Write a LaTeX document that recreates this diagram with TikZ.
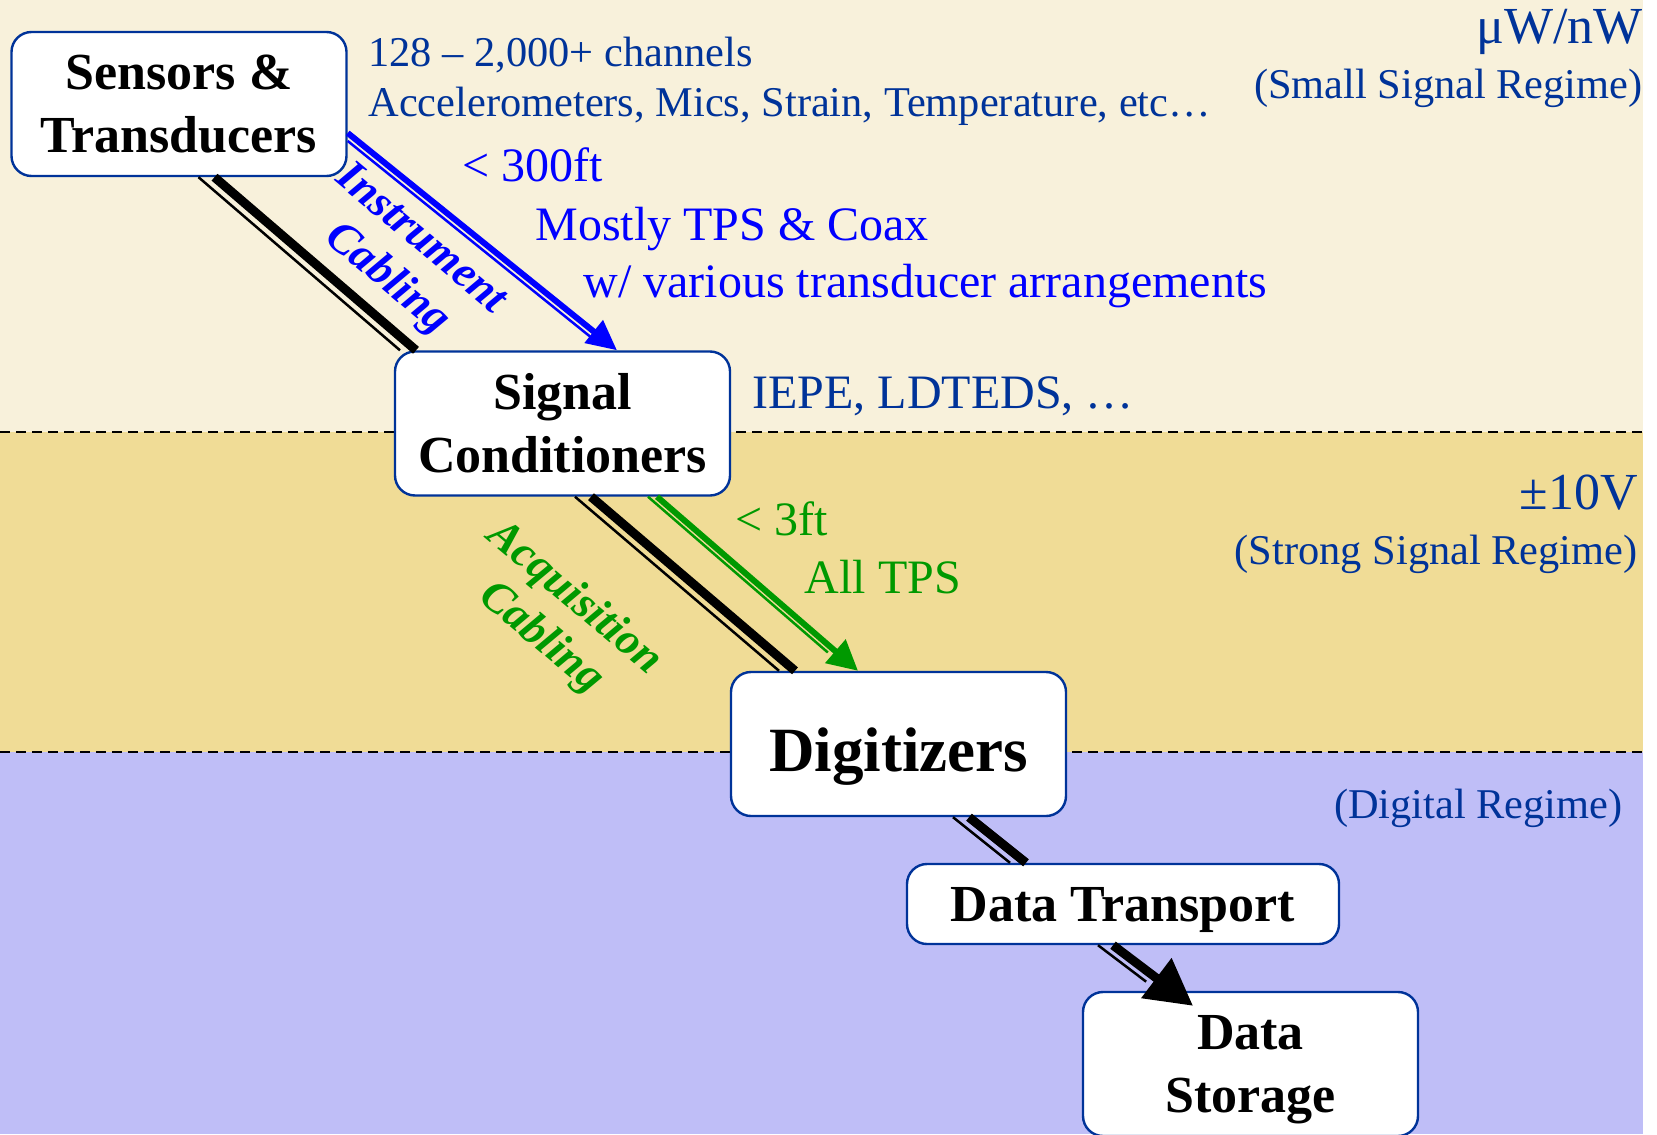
\documentclass[tikz,border=0pt]{standalone}
\usepackage{fontspec}
\setmainfont{Liberation Serif}
\usetikzlibrary{arrows.meta,calc}
\definecolor{regblue}{HTML}{003399}
\definecolor{cablue}{HTML}{0000FF}
\definecolor{cagreen}{HTML}{009900}
\definecolor{smallband}{HTML}{F8F1DB}
\definecolor{strongband}{HTML}{F0DC96}
\definecolor{digiband}{HTML}{BFBEF7}
\begin{document}
\begin{tikzpicture}[x=0.5pt,y=-0.5pt,
    stage/.style={draw=regblue,line width=1.2pt,fill=white,rounded corners=10pt,
      align=center,inner sep=0pt,minimum width=167.5pt,minimum height=72pt,
      font=\bfseries\fontsize{26}{31.5}\selectfont},
    note/.style={anchor=base west,text=regblue,inner sep=0pt,font=\fontsize{21.2}{25}\selectfont},
    regime/.style={anchor=base east,text=regblue,inner sep=0pt,font=\fontsize{21.2}{25}\selectfont},
    bigreg/.style={regime,font=\fontsize{26}{30}\selectfont},
    spec/.style={anchor=base west,inner sep=0pt,font=\fontsize{24}{28}\selectfont},
    cablename/.style={rotate=-40,align=center,inner sep=0pt,
      font=\bfseries\itshape\fontsize{22.5}{26}\selectfont},
    border/.style={dashed,dash pattern=on 5pt off 3pt,line width=0.8pt},
    cable/.style={line width=4.5pt},
    lead/.style={line width=3pt},
    wire/.style={line width=1.25pt}]
  \useasboundingbox (0,0) rectangle (1657,1134);
  \fill[smallband]  (0,0)   rectangle (1643,432);
  \fill[strongband] (0,432) rectangle (1643,752);
  \fill[digiband]   (0,752) rectangle (1643,1134);
  \draw[border] (0,432) -- (1643,432);
  \draw[border] (0,752) -- (1643,752);

  \node[stage] (sens)  at (179,104)     {Sensors \&\\Transducers};
  \node[stage] (cond)  at (562.5,423.5) {Signal\\Conditioners};
  \node[stage,font=\bfseries\fontsize{31.5}{36}\selectfont,text height=27.5pt,text depth=0pt] (digi) at (898.5,744) {Digitizers};
  \node[stage,minimum width=216pt,minimum height=40pt,text depth=0pt] (trans) at (1123,904) {Data Transport};
  \node[stage,text depth=0pt] (stor)  at (1250.5,1064) {Data\\Storage};

  \node[note] (chan)  at (368,66.5) {128 – 2,000+ channels};
  \node[note] (kinds) at (368,117)  {Accelerometers, Mics, Strain, Temperature, etc…};
  \node[spec,text=cablue] (len1) at (462,182) {< 300ft};
  \node[spec,text=cablue] (tps1) at (535,240) {Mostly TPS \& Coax};
  \node[spec,text=cablue] (arr)  at (583,297) {w/ various transducer arrangements};
  \node[spec,text=regblue] (iepe) at (752,408) {IEPE, LDTEDS, …};
  \node[spec,text=cagreen] (len2) at (735,535) {< 3ft};
  \node[spec,text=cagreen] (tps2) at (804.5,593) {All TPS};

  \node[bigreg] (uw)     at (1643,44)  {μW/nW};
  \node[regime] (small)  at (1643,99)  {(Small Signal Regime)};
  \node[bigreg] (tenv)   at (1638,509.5) {±10V};
  \node[regime] (strong) at (1638,564) {(Strong Signal Regime)};
  \node[regime] (digreg) at (1623,818) {(Digital Regime)};

  \node[cablename,text=cablue]  (instr) at (403.5,260)   {Instrument\\Cabling};
  \node[cablename,text=cagreen] (acq)   at (557.5,618.5) {Acquisition\\Cabling};

  \draw[cable] ($(sens.south)+(35.5,0)$) -- ($(cond.north)+(-146.5,0)$);
  \draw[wire,transform canvas={shift={(-16,0)}}] ($(sens.south)+(35.5,0)$) -- ($(cond.north)+(-146.5,0)$);
  \draw[lead,cablue,-{Triangle[length=15pt,width=14pt]}] ($(sens.east)+(0,29)$) -- ($(cond.north)+(54.5,0)$);
  \draw[wire,cablue,shorten >=14pt,transform canvas={shift={(0,8)}}] ($(sens.east)+(0,29)$) -- ($(cond.north)+(54.5,0)$);

  \draw[cable] ($(cond.south)+(28.5,0)$) -- ($(digi.north)+(-103.5,0)$);
  \draw[wire,transform canvas={shift={(-16,0)}}] ($(cond.south)+(28.5,0)$) -- ($(digi.north)+(-103.5,0)$);
  \draw[lead,cagreen,-{Triangle[length=15pt,width=15pt]}] ($(cond.south)+(94.5,0)$) -- ($(digi.north)+(-40.5,0)$);
  \draw[wire,cagreen,shorten >=14pt,transform canvas={shift={(-9,0)}}] ($(cond.south)+(94.5,0)$) -- ($(digi.north)+(-40.5,0)$);

  \draw[cable] ($(digi.south)+(70.5,0)$) -- ($(trans.north)+(-97,0)$);
  \draw[wire,transform canvas={shift={(-16,0)}}] ($(digi.south)+(70.5,0)$) -- ($(trans.north)+(-97,0)$);
  \draw[cable,-{Triangle[length=23pt,width=24pt]}] ($(trans.south)+(-10,0)$) -- ($(stor.north)+(-57.5,15)$);
  \draw[wire,shorten >=20pt,transform canvas={shift={(-15,0)}}] ($(trans.south)+(-10,0)$) -- ($(stor.north)+(-57.5,15)$);
\end{tikzpicture}
\end{document}
